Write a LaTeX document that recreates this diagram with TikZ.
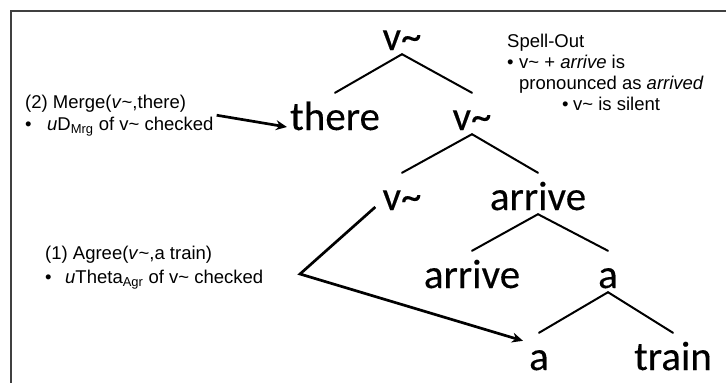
\documentclass[tikz,border=0pt]{standalone}
\usepackage{fontspec}
\setmainfont{Liberation Sans}
\newfontfamily\treefont[FakeBold=0.25]{Carlito}
\usetikzlibrary{arrows.meta}
\begin{document}
\begin{tikzpicture}[x=1pt,y=-1pt,
  word/.style={font=\treefont\fontsize{41}{41}\selectfont, anchor=base,
    inner xsep=3pt, inner ysep=4pt, text height=33pt, text depth=0pt},
  branch/.style={line width=2pt, line cap=round},
  note/.style={font=\fontsize{18.5}{22}\selectfont, align=left,
    anchor=north west, inner xsep=3pt, inner ysep=0pt},
  pointer/.style={line width=2.7pt, line join=miter,
    -{Stealth[length=11pt,width=10pt]}},
  frameline/.style={line width=2pt, black!75}]
\useasboundingbox (0,0) rectangle (726,383);

% slide frame
\draw[frameline] (11,383) -- (11,11) -- (726,11);

% tree words
\node[word] (vtop)  at (402,50)  {v\textasciitilde};
\node[word] (there) at (335,130) {there};
\node[word] (vmid)  at (472,130) {v\textasciitilde};
\node[word] (vlow)  at (402,210) {v\textasciitilde};
\node[word] (arr1)  at (538,210) {arrive};
\node[word] (arr2)  at (472,288) {arrive};
\node[word] (aup)   at (608,288) {a};
\node[word] (alow)  at (539,370) {a};
\node[word] (train) at (673,370) {train};

% branches
\draw[branch] (vtop.south) -- (there.north);
\draw[branch] (vtop.south) -- (vmid.north);
\draw[branch] (vmid.south) -- (vlow.north);
\draw[branch] (vmid.south) -- (arr1.north);
\draw[branch] (arr1.south) -- (arr2.north);
\draw[branch] (arr1.south) -- (aup.north);
\draw[branch] (aup.south)  -- (alow.north);
\draw[branch] (aup.south)  -- (train.north);

% annotations
\node[note] (merge) at (22,94.5)
  {(2) Merge(\textit{v}\textasciitilde,there)\\
   \makebox[22pt][l]{\textbullet}\textit{u}D\textsubscript{Mrg} of v\textasciitilde{} checked};
\node[note, font=\fontsize{18.5}{24}\selectfont] (agree) at (42,245.5)
  {(1) Agree(\textit{v}\textasciitilde,a train)\\
   \makebox[20pt][l]{\textbullet}\textit{u}Theta\textsubscript{Agr} of v\textasciitilde{} checked};
\node[note, font=\fontsize{18.5}{21}\selectfont] (spell) at (504,33.5)
  {Spell-Out\\
   \makebox[12pt][l]{\textbullet}v\textasciitilde{} + \textit{arrive} is\\
   \hspace*{12pt}pronounced as \textit{arrived}\\
   \hspace*{55pt}\makebox[11pt][l]{\textbullet}v\textasciitilde{} is silent};

% pointers
\draw[pointer] (merge.east) -- ([yshift=3pt]there.base west);
\coordinate (bend) at (300,274);
\draw[pointer] ([xshift=-4pt,yshift=3pt]vlow.base west) -- (bend)
  -- ([xshift=-3pt,yshift=-8pt]alow.north west);
\end{tikzpicture}
\end{document}
